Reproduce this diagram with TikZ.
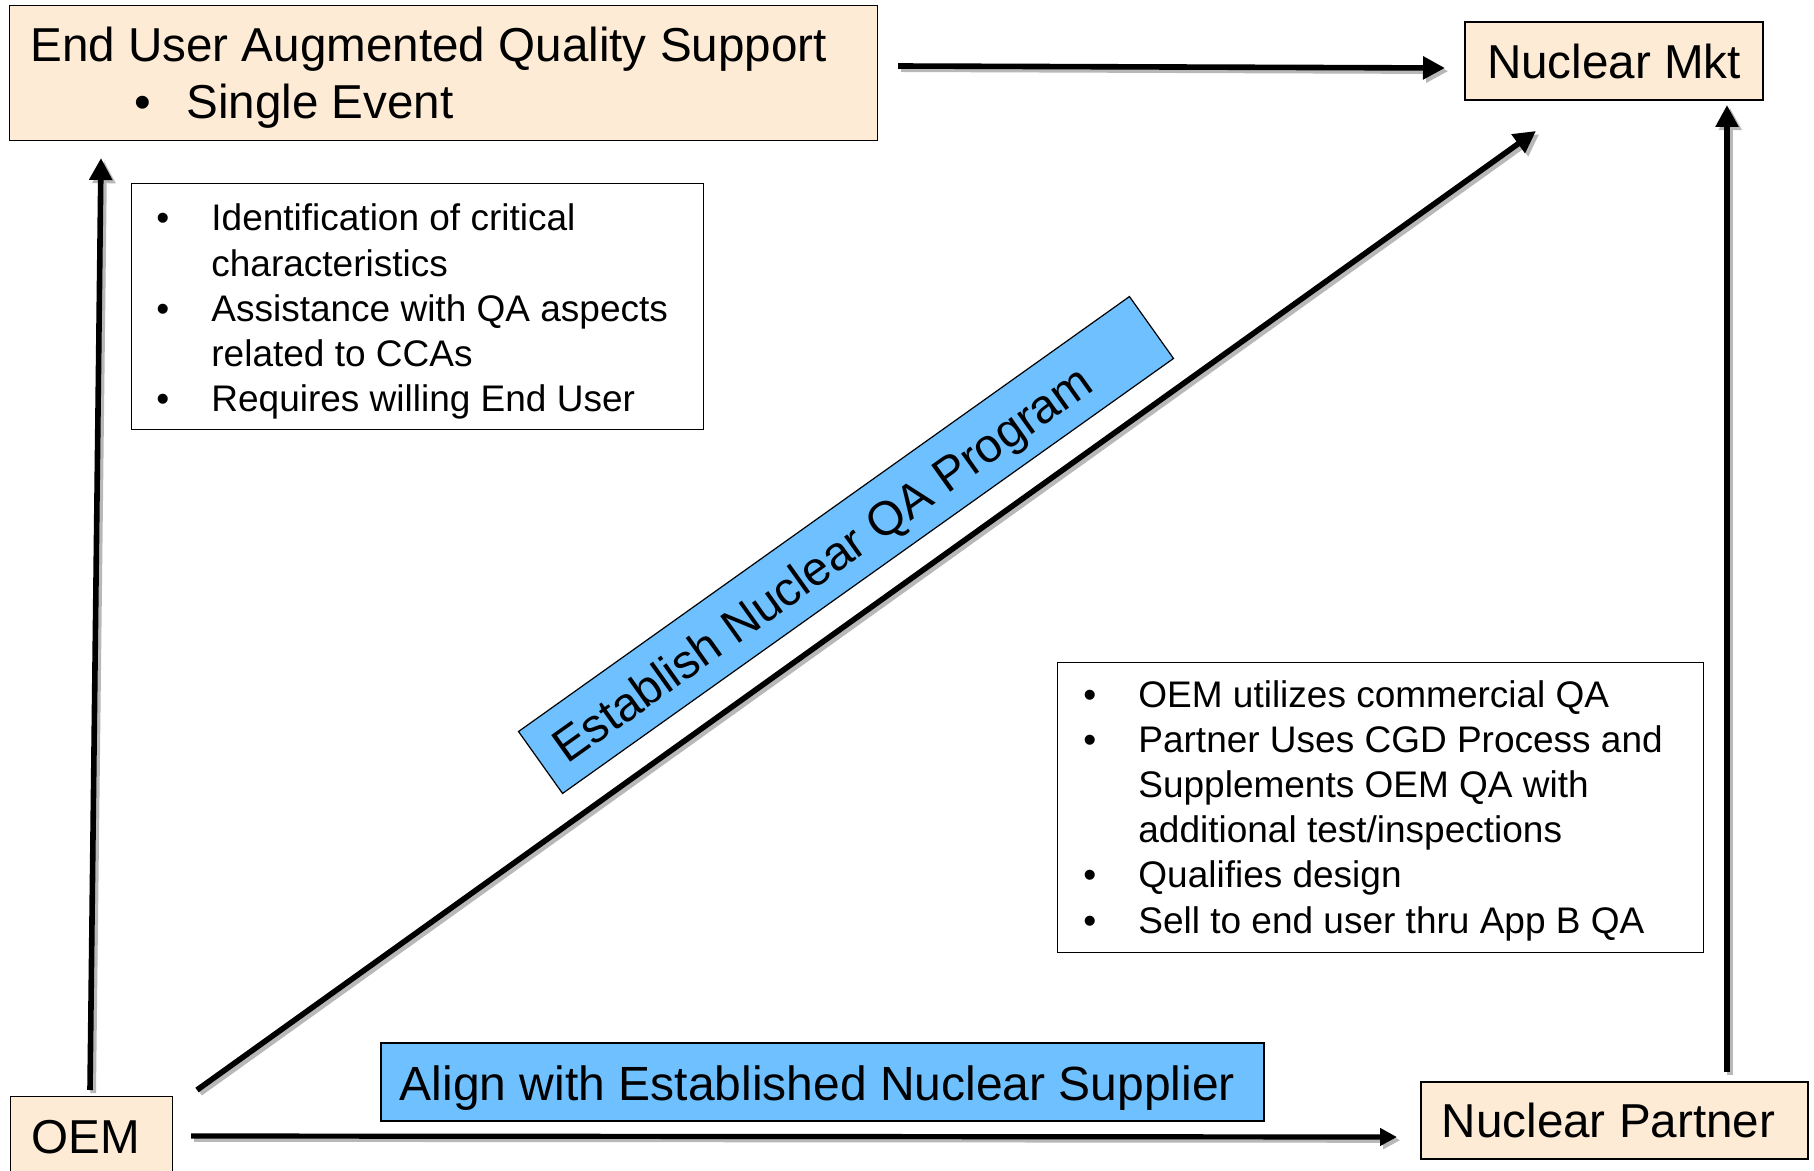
\documentclass[tikz,border=0pt]{standalone}
\usepackage{fontspec}
\setmainfont{Liberation Sans}
\usetikzlibrary{arrows.meta}
\definecolor{beige}{RGB}{253,235,213}
\definecolor{skyblue}{RGB}{111,192,255}
\newcommand\bigtxt{\fontsize{23.8pt}{28.5pt}\selectfont}
\newcommand\aligntxt{\fontsize{24pt}{28.5pt}\selectfont}
\newcommand\smalltxt{\fontsize{18.5pt}{22.6pt}\selectfont}
\newcommand\sbullet{\leavevmode\llap{\textbullet\hspace{21pt}}}
\newcommand\bbullet{\leavevmode\llap{\textbullet\hspace{17.5pt}}}
\newcommand\lowered[2]{\raisebox{-#1}[\height][\depth]{#2}}
\begin{document}
\begin{tikzpicture}[x=0.5pt,y=-0.5pt,
  box/.style={draw=black, line width=0.6pt, fill=beige, inner sep=0pt, anchor=north west},
  bluebox/.style={draw=black, line width=0.6pt, fill=skyblue, inner sep=0pt},
  textbox/.style={draw=black, line width=0.6pt, fill=white, inner sep=0pt, anchor=north west},
  txt/.style={anchor=base west, inner sep=0pt},
  conn/.style={line width=2.8pt, -{Triangle[length=11pt,width=11pt]}},
  connsmall/.style={line width=2.6pt, -{Triangle[length=8.5pt,width=8.5pt]}},
  shadowed/.style={draw=black!28, transform canvas={xshift=1.6pt,yshift=-1.6pt}}
]
\useasboundingbox (0,0) rectangle (1814,1171);
\fill[white] (0,0) rectangle (1814,1171);

% connector end points
\coordinate (euR) at (898,66);
\coordinate (mktL) at (1445,68);
\coordinate (oemU) at (90,1090);
\coordinate (euD) at (101,158);
\coordinate (oemD) at (197,1090);
\coordinate (mktD) at (1536,131);
\coordinate (parU) at (1727,1072);
\coordinate (mktB) at (1727,105);
\coordinate (oemR) at (191,1136);
\coordinate (parL) at (1397,1137);

% shadows
\draw[conn, shadowed] (euR) -- (mktL);
\draw[conn, shadowed] (oemU) -- (euD);
\draw[conn, shadowed] (oemD) -- (mktD);
\draw[conn, shadowed] (parU) -- (mktB);
\draw[connsmall, shadowed] (oemR) -- (parL);

% connectors
\draw[conn] (euR) -- (mktL);
\draw[conn] (oemU) -- (euD);
\draw[conn] (oemD) -- (mktD);
\draw[conn] (parU) -- (mktB);
\draw[connsmall] (oemR) -- (parL);

% boxes
\node[box, minimum width=434pt, minimum height=67.5pt] (eu) at (9,5) {};
\node[txt] (eut) at (30,62) {\bigtxt\parbox[t]{420pt}{\raggedright End User Augmented Quality Support\\
  \hspace*{78pt}\bbullet Single Event}};

\node[box, anchor=center, minimum width=149pt, minimum height=39pt, font=\bigtxt] (mkt) at (1614,61) {Nuclear Mkt};

\node[box, minimum width=81pt, minimum height=50pt] (oem) at (10,1096) {};
\node[txt, font=\bigtxt] (oemt) at (31,1153) {OEM};

\node[box, anchor=center, minimum width=193.5pt, minimum height=38.5pt, font=\bigtxt] (partner) at (1614.5,1120.5) {\hspace*{-6pt}Nuclear Partner};

\node[bluebox, minimum width=441.5pt, minimum height=39pt, font=\aligntxt] (align) at (822.5,1082) {\hspace*{-5pt}\lowered{3pt}{Align with Established Nuclear Supplier}};

\node[bluebox, rotate=35.45, minimum width=375pt, minimum height=38pt, font=\bigtxt] (estab) at (846,545) {\hspace*{-30pt}\lowered{2.8pt}{Establish Nuclear QA Program}};

\node[textbox, minimum width=286pt, minimum height=123pt] (crit) at (131,183) {};
\node[txt] (critt) at (211,231) {\smalltxt\parbox[t]{240pt}{\raggedright
  \sbullet Identification of critical\\
  characteristics\\
  \sbullet Assistance with QA aspects\\
  related to CCAs\\
  \sbullet Requires willing End User}};

\node[textbox, minimum width=323pt, minimum height=145pt] (oemqa) at (1057,662) {};
\node[txt] (oemqat) at (1138,707) {\smalltxt\parbox[t]{300pt}{\raggedright
  \sbullet OEM utilizes commercial QA\\
  \sbullet Partner Uses CGD Process and\\
  Supplements OEM QA with\\
  additional test/inspections\\
  \sbullet Qualifies design\\
  \sbullet Sell to end user thru App B QA}};
\end{tikzpicture}
\end{document}
